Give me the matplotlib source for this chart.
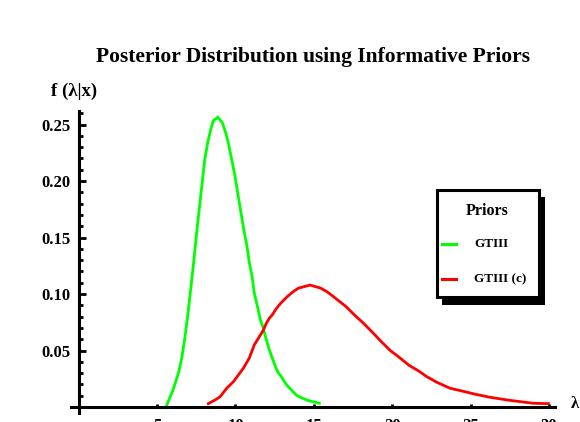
import matplotlib
matplotlib.use("Agg")
import matplotlib.pyplot as plt
from matplotlib.patches import Rectangle
from matplotlib.lines import Line2D
from matplotlib.ticker import MultipleLocator

# ---- data ----
green_x = [5.57, 5.79, 5.98, 6.19, 6.38, 6.57, 6.77, 6.96, 7.15, 7.34, 7.53, 7.72, 7.89,
           8.04, 8.23, 8.42, 8.59, 8.87, 9.17, 9.38, 9.57, 9.76, 9.95, 10.15, 10.34, 10.53,
           10.72, 10.87, 11.06, 11.2, 11.4, 11.59, 11.78, 11.97, 12.16, 12.35, 12.55, 12.74,
           12.93, 13.12, 13.31, 13.5, 13.69, 13.88, 14.14, 14.59, 15.35]
green_y = [0.0, 0.0077, 0.0136, 0.0224, 0.031, 0.043, 0.061, 0.0816, 0.105, 0.129, 0.155,
           0.179, 0.200, 0.219, 0.234, 0.2456, 0.2535, 0.2565, 0.2515, 0.2426, 0.232, 0.219,
           0.2057, 0.189, 0.173, 0.157, 0.1436, 0.129, 0.1155, 0.1008, 0.089, 0.077, 0.0698,
           0.0594, 0.0505, 0.0432, 0.0357, 0.030, 0.0269, 0.0224, 0.0189, 0.016, 0.0133,
           0.0106, 0.0086, 0.0059, 0.0033]

red_x = [8.27, 8.7, 9.02, 9.44, 9.87, 10.19, 10.5, 10.87, 11.2, 11.59, 11.78, 11.97, 12.16,
         12.35, 12.55, 12.74, 12.93, 13.31, 13.69, 14.01, 14.76, 15.44, 15.82, 16.24, 16.5,
         17.05, 17.58, 18.16, 18.73, 19.3, 19.88, 20.39, 21.07, 21.65, 22.2, 22.84, 23.69,
         24.53, 25.3, 26.24, 27.5, 29.0, 29.96]
red_y = [0.003, 0.0062, 0.0091, 0.0166, 0.0224, 0.0284, 0.0343, 0.043, 0.055, 0.0638, 0.068,
         0.0742, 0.0786, 0.0816, 0.086, 0.0895, 0.0925, 0.0978, 0.1022, 0.1052, 0.1079,
         0.1052, 0.1022, 0.0978, 0.0949, 0.0889, 0.0816, 0.0742, 0.0662, 0.0579, 0.0499,
         0.0446, 0.0369, 0.0322, 0.0269, 0.0219, 0.0166, 0.0139, 0.0113, 0.0086, 0.0059,
         0.0033, 0.0030]

x_ticks = [5, 10, 15, 20, 25, 30]
y_ticks = [0.05, 0.10, 0.15, 0.20, 0.25]
y_tick_labels = ["0.05", "0.10", "0.15", "0.20", "0.25"]
series_names = ["GTIII", "GTIII (c)"]
series_colors = ["#00ff00", "#ff0000"]
title = "Posterior Distribution using Informative Priors"
legend_title = "Priors"

FONT = "Liberation Serif"

W, H = 580, 422
fig = plt.figure(figsize=(W / 100, H / 100), dpi=100)
ax = fig.add_axes([71 / W, 1 - 413 / H, 484 / W, 302 / H])
ax.set_xlim(-0.49, 30.38)
ax.set_ylim(-0.0053, 0.262)

ax.plot(green_x, green_y, color=series_colors[0], lw=2.0, solid_joinstyle="miter")
ax.plot(red_x, red_y, color=series_colors[1], lw=2.0, solid_joinstyle="miter")

for s in ["top", "right"]:
    ax.spines[s].set_visible(False)
ax.spines["left"].set_position(("data", 0))
ax.spines["bottom"].set_position(("data", 0))
for s in ["left", "bottom"]:
    ax.spines[s].set_linewidth(2.2)
    ax.spines[s].set_color("black")
ax.spines["left"].set_bounds(-0.0053, 0.262)
ax.spines["bottom"].set_bounds(-0.49, 30.38)

ax.set_xticks(x_ticks)
ax.set_xticklabels([str(v) for v in x_ticks])
ax.set_yticks(y_ticks)
ax.set_yticklabels(y_tick_labels)
ax.yaxis.set_minor_locator(MultipleLocator(0.01))
ax.tick_params(axis="y", which="major", direction="in", length=5, width=2, pad=6)
ax.tick_params(axis="y", which="minor", direction="in", length=3, width=2)
ax.tick_params(axis="x", which="major", direction="in", length=2.2, width=2, pad=8)
for lab in ax.get_xticklabels() + ax.get_yticklabels():
    lab.set_fontfamily(FONT)
    lab.set_fontweight("bold")
    lab.set_fontsize(12)

fig.text(312.5 / W, 1 - 57 / H, title, ha="center", va="center",
         fontfamily=FONT, fontweight="bold", fontsize=15.5)
fig.text(51 / W, 1 - 91 / H, "f (λ|x)", ha="left", va="center",
         fontfamily=FONT, fontweight="bold", fontsize=13.5)
fig.text(571 / W, 1 - 404 / H, "λ", ha="left", va="center",
         fontfamily=FONT, fontweight="bold", fontsize=12)

# legend box with shadow
shadow = Rectangle((442 / W, 1 - 305 / H), 103 / W, 108 / H, transform=fig.transFigure,
                   facecolor="black", edgecolor="none")
box = Rectangle((437 / W, 1 - 297 / H), 102 / W, 107 / H, transform=fig.transFigure,
                facecolor="white", edgecolor="black", linewidth=2.2)
fig.patches.extend([shadow, box])
fig.text(487 / W, 1 - 211 / H, legend_title, ha="center", va="center",
         fontfamily=FONT, fontweight="bold", fontsize=11.5)
for i, (name, col) in enumerate(zip(series_names, series_colors)):
    yy = 1 - (244 + 35 * i) / H
    fig.lines.append(Line2D([442 / W, 456 / W], [yy, yy], transform=fig.transFigure,
                            color=col, lw=2.2))
    fig.text(474 / W, yy, name, ha="left", va="center",
             fontfamily=FONT, fontweight="bold", fontsize=9.5)

fig.savefig("out.png", dpi=100)
